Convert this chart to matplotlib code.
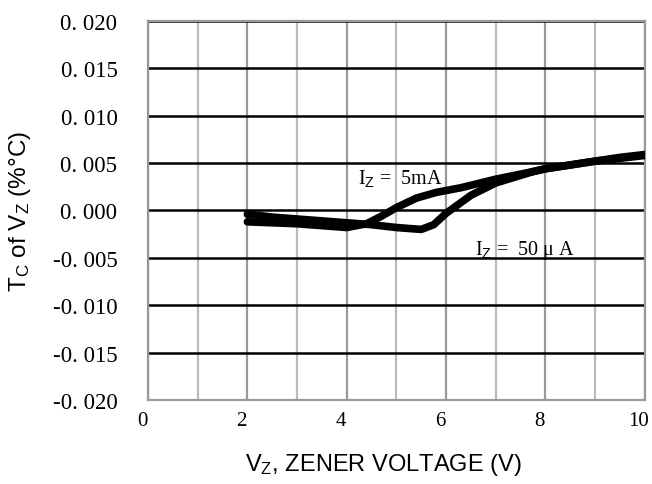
import matplotlib
matplotlib.use("Agg")
import matplotlib.pyplot as plt
import matplotlib.transforms as mtransforms

# curve readings (V, %/C)
v_5ma = [2.0, 2.5, 3.0, 3.5, 4.0, 4.4, 4.7, 5.0, 5.4, 5.8, 6.3, 7.0, 7.75, 8.0, 8.5, 9.0, 9.5, 10.0]
tc_5ma = [-0.0012, -0.0013, -0.0014, -0.0016, -0.0018, -0.0014, -0.0006, 0.0003, 0.0013, 0.0019, 0.0024,
          0.0033, 0.0041, 0.0044, 0.0048, 0.0052, 0.0055, 0.0058]
v_50ua = [2.0, 2.5, 3.0, 3.5, 4.0, 4.5, 5.0, 5.5, 5.75, 6.0, 6.5, 7.0, 7.75, 8.0, 8.5, 9.0, 9.5, 10.0]
tc_50ua = [-0.0004, -0.0007, -0.0009, -0.0011, -0.0013, -0.0015, -0.0018, -0.0020, -0.0015, -0.0003, 0.0016,
           0.0029, 0.0041, 0.0044, 0.0048, 0.0052, 0.0056, 0.0059]

x_ticks = [0, 2, 4, 6, 8, 10]
y_ticks = [0.020, 0.015, 0.010, 0.005, 0.000, -0.005, -0.010, -0.015, -0.020]
y_tick_labels = ["0. 020", "0. 015", "0. 010", "0. 005", "0. 000",
                 "-0. 005", "-0. 010", "-0. 015", "-0. 020"]

plt.rcParams["mathtext.fontset"] = "custom"
plt.rcParams["mathtext.rm"] = "Liberation Sans"
plt.rcParams["mathtext.it"] = "Liberation Sans"

fig = plt.figure(figsize=(6.52, 4.85), dpi=100)
ax = fig.add_axes([0.227, 0.173, 0.762, 0.782])

# vertical grid every 1 V, darker at even volts
for xv in range(0, 11):
    ax.axvline(xv, color="#999999" if xv % 2 == 0 else "#bbbbbb", lw=1.6, zorder=1)
for yv in y_ticks:
    ax.axhline(yv, color="black", lw=1.8, zorder=2)

for vv, tc in ((v_5ma, tc_5ma), (v_50ua, tc_50ua)):
    ax.plot(vv, tc, color="black", lw=5.5, solid_capstyle="round",
            solid_joinstyle="round", zorder=3)

serif = ["Liberation Serif", "DejaVu Serif"]
ax.text(4.22, 0.0034, "I$_Z$ =  5mA", fontsize=14.5, family=serif, va="center", zorder=4)
ax.text(6.58, -0.0041, "I$_Z$ =  50 \u03bc A", fontsize=14.5, family=serif, va="center", zorder=4)

ax.set_xlim(0, 10)
ax.set_ylim(-0.020, 0.020)
ax.set_xticks(x_ticks)
ax.set_xticklabels([str(t) for t in x_ticks], family=serif, fontsize=15)
ax.set_yticks(y_ticks)
ax.set_yticklabels(y_tick_labels, family=serif, fontsize=16.5)
ax.tick_params(length=0)
ax.tick_params(axis="x", pad=8)
ax.tick_params(axis="y", pad=22)
# x tick labels sit a little left of their gridlines in the original
shift = mtransforms.ScaledTranslation(-6 / 100, 0, fig.dpi_scale_trans)
for lab in ax.get_xticklabels():
    lab.set_transform(lab.get_transform() + shift)

for s in ax.spines.values():
    s.set_color("#999999")
    s.set_linewidth(1.6)

ax.set_xlabel("V$_Z$, ZENER VOLTAGE (V)", family="Liberation Sans", fontsize=17)
ax.set_ylabel("T$_C$ of V$_Z$ (%\u00b0C)", family="Liberation Sans", fontsize=17.5)
ax.xaxis.label.set_va("center")
ax.yaxis.label.set_va("center")
ax.xaxis.set_label_coords(0.473, -0.169)
ax.yaxis.set_label_coords(-0.258, 0.499)

fig.savefig("out.png", dpi=100)
